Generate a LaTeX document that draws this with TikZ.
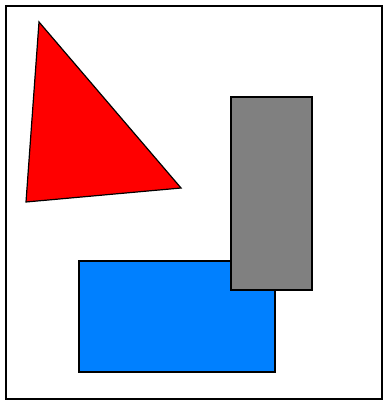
\documentclass[tikz,border=0pt]{standalone}
\usepackage{tikz}

\definecolor{shapeblue}{RGB}{0,128,255}
\definecolor{shapegray}{RGB}{128,128,128}

\begin{document}
\begin{tikzpicture}[x=1pt, y=-1pt,
    figure/.style={draw=black, line width=1.2pt, line join=miter}]
  \useasboundingbox (0,0) rectangle (385,403);
  % frame
  \draw[line width=2.6pt] (6,6) rectangle (382,399);
  % shapes
  \draw[figure, fill=red] (39,22) -- (181,188) -- (26,202) -- cycle;
  \draw[figure, fill=shapeblue] (79,261) rectangle (275,372);
  \draw[figure, fill=shapegray] (231,97) rectangle (312,290);
\end{tikzpicture}
\end{document}
